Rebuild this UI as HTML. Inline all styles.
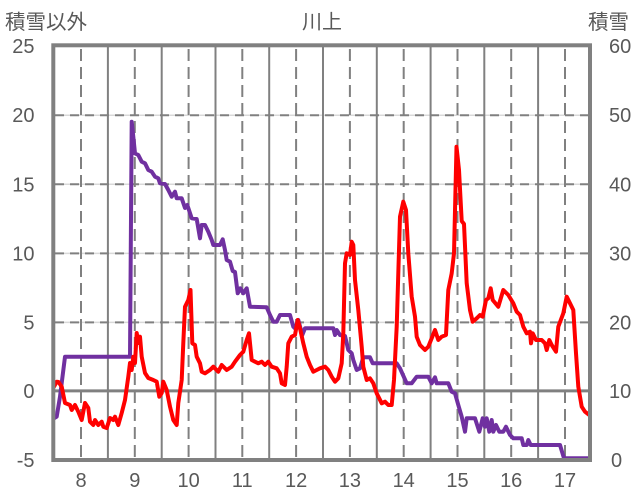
<!DOCTYPE html>
<html><head><meta charset="utf-8"><style>
html,body{margin:0;padding:0;background:#fff;}
svg{display:block;}
text{font-family:"Liberation Sans","Noto Sans CJK JP",sans-serif;fill:#595959;}
</style></head><body>
<svg width="636" height="501" viewBox="0 0 636 501" xmlns="http://www.w3.org/2000/svg">
<rect x="0" y="0" width="636" height="501" fill="#fff"/>
<!-- light solid horizontal grid -->
<g stroke="#d9d9d9" stroke-width="1.5">
<line x1="53" y1="115.2" x2="590" y2="115.2"/>
<line x1="53" y1="184.3" x2="590" y2="184.3"/>
<line x1="53" y1="253.4" x2="590" y2="253.4"/>
<line x1="53" y1="322.4" x2="590" y2="322.4"/>
</g>
<!-- dashed horizontal grid -->
<g stroke="#808080" stroke-width="2" stroke-dasharray="9,6">
<line x1="55" y1="115.2" x2="590" y2="115.2"/>
<line x1="55" y1="184.3" x2="590" y2="184.3"/>
<line x1="55" y1="253.4" x2="590" y2="253.4"/>
<line x1="55" y1="322.4" x2="590" y2="322.4"/>
</g>
<!-- solid vertical grid -->
<g stroke="#808080" stroke-width="2">
<line x1="107.9" y1="45" x2="107.9" y2="460"/>
<line x1="161.7" y1="45" x2="161.7" y2="460"/>
<line x1="215.5" y1="45" x2="215.5" y2="460"/>
<line x1="269.2" y1="45" x2="269.2" y2="460"/>
<line x1="323" y1="45" x2="323" y2="460"/>
<line x1="376.8" y1="45" x2="376.8" y2="460"/>
<line x1="430.6" y1="45" x2="430.6" y2="460"/>
<line x1="484.3" y1="45" x2="484.3" y2="460"/>
<line x1="538.1" y1="45" x2="538.1" y2="460"/>
</g>
<!-- dashed vertical grid -->
<g stroke="#808080" stroke-width="2" stroke-dasharray="12,6" stroke-dashoffset="-4">
<line x1="81" y1="45" x2="81" y2="460"/>
<line x1="134.8" y1="45" x2="134.8" y2="460"/>
<line x1="188.6" y1="45" x2="188.6" y2="460"/>
<line x1="242.3" y1="45" x2="242.3" y2="460"/>
<line x1="296.1" y1="45" x2="296.1" y2="460"/>
<line x1="349.9" y1="45" x2="349.9" y2="460"/>
<line x1="403.7" y1="45" x2="403.7" y2="460"/>
<line x1="457.5" y1="45" x2="457.5" y2="460"/>
<line x1="511.2" y1="45" x2="511.2" y2="460"/>
<line x1="565" y1="45" x2="565" y2="460"/>
</g>
<!-- zero line -->
<line x1="53" y1="390.9" x2="590" y2="390.9" stroke="#808080" stroke-width="3"/>

<!-- purple series -->
<polyline fill="none" stroke="#7030A0" stroke-width="4" stroke-linejoin="round" stroke-linecap="round" points="54,418.3 56.7,416.7 60,396.7 65,356.7 130,356.7 131.7,121.7 133.3,136.7 135,153.3 138.3,155 141.7,161.7 145,163.3 148.3,170 151.7,171.7 155,176.7 158.3,178.3 160,183.3 165,184 168.3,190 171.7,196.7 175,191.7 176.7,198.3 181.7,198.3 185,208 187.3,205 191.7,218.3 196.7,219 200,238.3 201.7,225 205,225 208.3,231.7 211.7,240 213.3,245 220,245 222.7,239.3 225,250 226.7,260 230,261.7 232.7,271 235,272 237.7,293.3 240.3,288.3 243.3,293.3 246.7,288.3 250,306.7 266.7,307.3 270,315 273.3,321.7 276.7,321.7 280,315 290,315 293.3,326.7 295,328.3 298.3,320 302.3,335 305,328.3 333.3,328.3 335,335 336.7,330 340,335 345,336 348.3,350 351.7,353.3 353.3,360 356.7,370 360,368.3 363.3,357.3 370,357.3 372.7,363.3 396.7,363.3 400,368.3 406.7,383.3 411.7,383.3 416.7,376.7 428.3,376.7 431.7,383.3 435,377.3 436.7,383.3 448.3,383.3 451.7,391.7 455,393.3 458.3,405 461.7,416.7 465,431.7 466.7,418.3 475,418.3 479.3,431.7 482.7,418.3 485,426.7 486.7,418.3 489.3,431.7 491.7,420 493.3,431.7 496,425 499.3,431.7 503.3,431.7 506,426.7 510,435 513.3,438.3 521.7,438.3 523.3,445 526.7,445 528.3,440 530.7,445 560,445 564,458.3 590,458.3"/>

<!-- red series -->
<polyline fill="none" stroke="#FF0000" stroke-width="4" stroke-linejoin="round" stroke-linecap="round" points="54,386.7 56.7,381.7 58.5,382 61.7,386.7 65,403 70,405 71.7,410 75,405 78.3,411.7 81.7,420 85,403 88.3,408 90,421.7 93.3,425 95,420 98.3,425 101.7,421.7 103.3,426.7 106.7,428 110,418 113.3,420 115,416.7 118.3,425 121.7,413 125,400 128.3,376.7 130,363 131.7,370 133.3,356.7 135,363 136.7,333 138.3,343 140,336.7 141.7,356.7 145,373 148.3,378 153.3,380 156.7,381.7 159.3,396.7 161.7,393 163.3,381.7 166.7,390 170,406.7 173.3,420 176.7,425 178.3,403 181.7,380 183.3,343 185,306.7 188.3,300 190.5,290 192.3,343.3 195,345 196.7,356.7 200,363.3 201.7,371.7 205,373.3 210,370 213.3,366.7 218.3,371.7 221.7,365 226.7,370 231.7,366.7 235,361.7 240,355 243.3,351.7 246.7,340 249,333.3 251.7,360 255,361.7 258.3,363.3 261.7,361.7 265,365 268.3,361.7 271.7,366.7 276.7,368.3 280,373.3 281.7,383.3 285,385 286.7,366.7 288.3,343.3 291.7,336.7 295,335 297.7,320 300,328.3 303.3,343.3 306.7,356.7 310,365 313.3,371.7 316.7,370 320,368.3 325,366.7 328.3,370 331.7,376.7 335,381.7 338.3,378.3 341.7,363.3 343.3,333.3 345,263.3 346.7,253.3 350,255 351.7,241.7 353.3,245 355,280 358.3,310 361.7,346.7 363.3,366.7 366.7,380 370,378.3 373.3,383.3 376.7,393.3 381.7,403.3 385,401.7 388.3,405 391.7,405 394,380 396.7,326.7 400,216.7 403.3,201.7 406,210 408.3,253.3 411.7,296.7 415,316.7 416.7,336.7 420,345 425,350 428.3,346.7 431.7,338.3 435,330 438.3,340 441.7,336.7 446,335 448.3,290 451.7,273.3 454,253.3 456.5,146.7 459,170 461.7,221 464,224 466.7,283.3 470,310 472.7,321.7 476.7,318.3 480,315 482.7,316.7 486,300 488.3,298.3 490.7,288.3 492.7,300 498.3,306.7 503.3,290 508.3,295 513.3,303.3 516.7,311.7 520,315 523.3,326.7 526.7,333.3 530,331.7 531,343.3 532.7,333.3 536,340 541.7,340 545,343.3 546.7,350 549.3,340 551.7,345 556,351.7 558.3,326.7 563.3,313.3 566.7,296.7 570,303.3 573.3,310 576,353.3 578.3,386.7 581.7,406.7 585,411.7 589.3,415"/>

<!-- plot border -->
<rect x="53.3" y="45.3" width="536.7" height="414.7" fill="none" stroke="#808080" stroke-width="4"/>

<!-- left axis labels -->
<g font-size="20" text-anchor="end">
<text x="34.5" y="53">25</text>
<text x="34.5" y="122.2">20</text>
<text x="34.5" y="191.3">15</text>
<text x="34.5" y="260.4">10</text>
<text x="34.5" y="329.4">5</text>
<text x="34.5" y="398">0</text>
<text x="34.5" y="467">-5</text>
</g>
<!-- right axis labels -->
<g font-size="20" text-anchor="start">
<text x="609" y="53">60</text>
<text x="609" y="122.2">50</text>
<text x="609" y="191.3">40</text>
<text x="609" y="260.4">30</text>
<text x="609" y="329.4">20</text>
<text x="609" y="398">10</text>
<text x="611" y="467">0</text>
</g>
<!-- x axis labels -->
<g font-size="20" text-anchor="middle">
<text x="81" y="487">8</text>
<text x="134.8" y="487">9</text>
<text x="188.6" y="487">10</text>
<text x="242.3" y="487">11</text>
<text x="296.1" y="487">12</text>
<text x="349.9" y="487">13</text>
<text x="403.7" y="487">14</text>
<text x="457.5" y="487">15</text>
<text x="511.2" y="487">16</text>
<text x="565" y="487">17</text>
</g>
<!-- titles -->
<text x="5" y="29" font-size="20.5">積雪以外</text>
<text x="322" y="28.5" font-size="20" text-anchor="middle">川上</text>
<text x="588" y="29" font-size="20.5">積雪</text>
</svg>
</body></html>
